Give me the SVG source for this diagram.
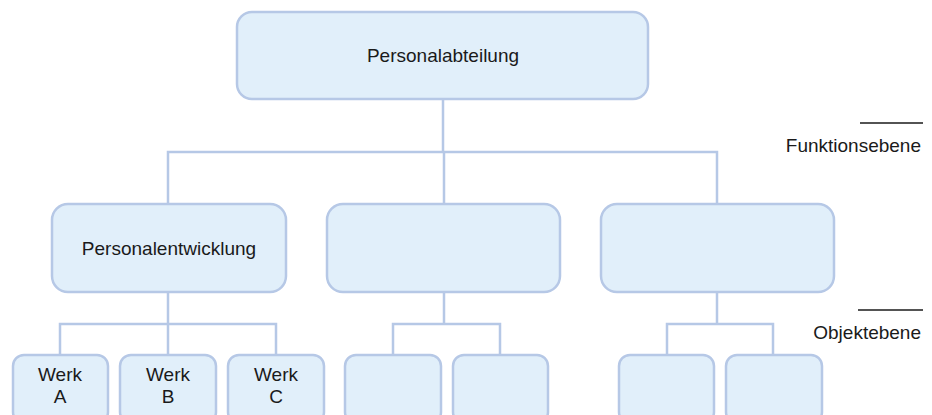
<svg xmlns="http://www.w3.org/2000/svg" width="932" height="415" viewBox="0 0 932 415">
  <style>
    .box { fill: #E1EFFA; stroke: #B6C8E6; stroke-width: 2.5; }
    .conn { fill: none; stroke: #B6C8E6; stroke-width: 2.5; }
    .lbl { font-family: "Liberation Sans", Arial, sans-serif; font-size: 19px; fill: #1a1a1a; text-anchor: middle; }
    .lvl { font-family: "Liberation Sans", Arial, sans-serif; font-size: 19px; fill: #1a1a1a; text-anchor: end; }
    .rule { stroke: #1a1a1a; stroke-width: 1.5; }
  </style>
  <rect width="932" height="415" fill="#FFFFFF"/>

  <!-- connectors -->
  <g id="connectors">
    <path class="conn" d="M443,99 V152 M168,204 V152 H717 V204 M444,152 V204"/>
    <path class="conn" d="M168,292 V324 M60,355 V324 H276 V355 M168,324 V355"/>
    <path class="conn" d="M444,292 V324 M393,355 V324 H500 V355"/>
    <path class="conn" d="M717,292 V324 M667,355 V324 H773 V355"/>
  </g>

  <!-- level 1 -->
  <g id="personalabteilung">
    <rect class="box" x="237" y="12" width="411" height="87" rx="15"/>
    <text class="lbl" x="443" y="62">Personalabteilung</text>
  </g>

  <!-- level 2 -->
  <g id="personalentwicklung">
    <rect class="box" x="52" y="204" width="234" height="88" rx="16"/>
    <text class="lbl" x="169" y="255">Personalentwicklung</text>
  </g>
  <g id="funktion-2">
    <rect class="box" x="327" y="204" width="233" height="88" rx="16"/>
  </g>
  <g id="funktion-3">
    <rect class="box" x="601" y="204" width="233" height="88" rx="16"/>
  </g>

  <!-- level 3 (runs past the lower edge) -->
  <g id="werk-a">
    <rect class="box" x="13" y="355" width="95" height="68" rx="11"/>
    <text class="lbl" x="60" y="381">Werk</text>
    <text class="lbl" x="60" y="403">A</text>
  </g>
  <g id="werk-b">
    <rect class="box" x="120" y="355" width="96" height="68" rx="11"/>
    <text class="lbl" x="168" y="381">Werk</text>
    <text class="lbl" x="168" y="403">B</text>
  </g>
  <g id="werk-c">
    <rect class="box" x="228" y="355" width="96" height="68" rx="11"/>
    <text class="lbl" x="276" y="381">Werk</text>
    <text class="lbl" x="276" y="403">C</text>
  </g>
  <g id="objekt-4">
    <rect class="box" x="345" y="355" width="96" height="68" rx="11"/>
  </g>
  <g id="objekt-5">
    <rect class="box" x="453" y="355" width="95" height="68" rx="11"/>
  </g>
  <g id="objekt-6">
    <rect class="box" x="619" y="355" width="95" height="68" rx="11"/>
  </g>
  <g id="objekt-7">
    <rect class="box" x="726" y="355" width="96" height="68" rx="11"/>
  </g>

  <!-- level legend -->
  <g id="legend">
    <line class="rule" x1="860" y1="123" x2="923" y2="123"/>
    <text class="lvl" x="921" y="152">Funktionsebene</text>
    <line class="rule" x1="858" y1="310" x2="923" y2="310"/>
    <text class="lvl" x="921" y="339">Objektebene</text>
  </g>
</svg>
